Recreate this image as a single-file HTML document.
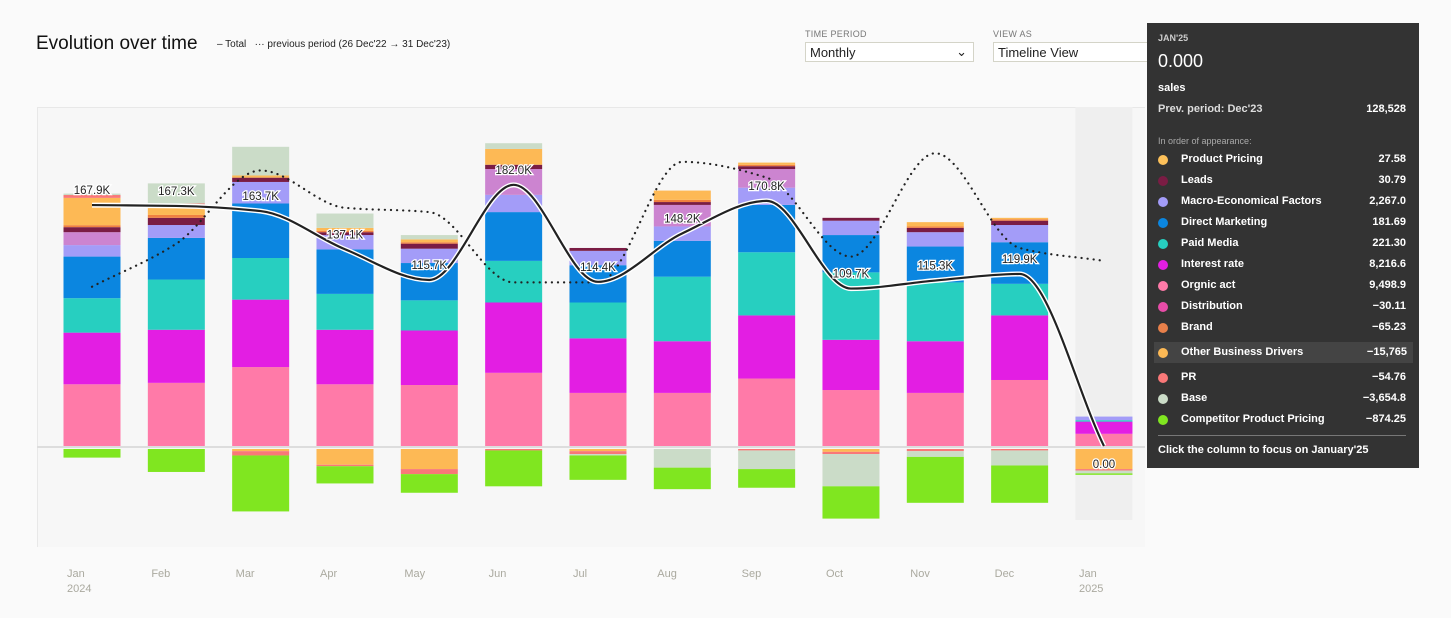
<!DOCTYPE html>
<html><head><meta charset="utf-8"><style>
html,body{margin:0;padding:0;width:1451px;height:618px;background:#fafafa;overflow:hidden;font-family:"Liberation Sans",sans-serif;}
#title{position:absolute;left:36px;top:33px;font-size:19px;color:#111;}
#legend{position:absolute;left:217px;top:39px;font-size:10px;color:#222;}
.lbl{position:absolute;font-size:9px;color:#777;letter-spacing:.3px}
.sel{position:absolute;height:20px;border:1px solid #d4d4c8;background:#fff;font-size:13px;color:#222;line-height:20px;padding-left:4px;box-sizing:border-box}
#tip{position:absolute;left:1147px;top:23px;width:272px;height:445px;background:#333;color:#fff;font-size:11px;font-weight:bold}
#tip .row{position:absolute;left:0;width:272px;height:21px;line-height:21px}
#tip .dot{position:absolute;left:11px;top:6px;width:10px;height:10px;border-radius:50%}
#tip .nm{position:absolute;left:34px}
#tip .vl{position:absolute;right:13px}
</style></head><body>
<div id="title">Evolution over time</div>
<div id="legend"><span>– Total</span> &nbsp; <span>··· previous period (26 Dec'22 → 31 Dec'23)</span></div>
<div class="lbl" style="left:805px;top:29px">TIME PERIOD</div>
<div class="sel" style="left:805px;top:42px;width:169px">Monthly<span style="position:absolute;right:6px;top:-1px">⌄</span></div>
<div class="lbl" style="left:993px;top:29px">VIEW AS</div>
<div class="sel" style="left:993px;top:42px;width:160px">Timeline View</div>
<svg id="chart" width="1451" height="618" style="position:absolute;left:0;top:0"></svg>
<div id="tip">
<div style="position:absolute;left:11px;top:10px;font-size:9px;color:#ccc">JAN'25</div>
<div style="position:absolute;left:11px;top:28px;font-size:18px;font-weight:normal">0.000</div>
<div style="position:absolute;left:11px;top:59px">sales</div>
<div style="position:absolute;left:11px;top:80px;color:#ddd">Prev. period: Dec'23</div>
<div style="position:absolute;right:13px;top:80px">128,528</div>
<div style="position:absolute;left:11px;top:113px;font-size:9px;color:#aaa;font-weight:normal">In order of appearance:</div>
<div id="tiprows"></div>
<div style="position:absolute;left:11px;right:13px;top:412px;border-top:1px solid #777"></div>
<div style="position:absolute;left:11px;top:421px">Click the column to focus on January'25</div>
</div>
<script>
const NS='http://www.w3.org/2000/svg';
const months=['Jan','Feb','Mar','Apr','May','Jun','Jul','Aug','Sep','Oct','Nov','Dec','Jan'];
const years=['2024','','','','','','','','','','','','2025'];
const organic=[43,44,55,43,42.5,51,37,37,47,39,37,46,8.5];
const interest=[36,37,47,38,38,49,38,36,44,35,36,45,8.5];
const paid=[24,35,29,25,21,29,25,45,44,47,41,22,1];
const direct=[29,29,38,31,26,34,26,25,33,26,25,29,0];
const macro=[8,9,15,10,10,12,10,10,12,10,10,12,2.5];
const distribution=[9,0,0,0,0,18,0,15,13,0,0,0,0];
const leads=[3.5,5,3,2,3.5,3,2,2,2,2,3,3,0];
const brand=[1.4,2,0,1,1,0,0,1.5,1,0,1,1,0];
const pricing=[19,7,1.5,2,2,11,0,6.5,1.5,0,3,1,0];
const prPos=[2,1,0,0,0,0,0,0,0,0,0,0,0];
const basePos=[1,14,20,10,3,4,0,0,0,0,0,0,0];
const otherNeg=[0,0,1.5,11,14,0,1.5,0,0,2,0,0,14];
const prNeg=[0,0,3,1,3.5,1,2,0,1,1.5,1.5,1,1];
const baseNeg=[0,0,0,0,0,0,1,13,13,22.5,4,10.5,2];
const competitor=[6,16,39,12,13,25,17,15,13,22.5,32,26,1];
const totals=[167.9,167.3,163.7,137.1,115.7,182.0,114.4,148.2,170.8,109.7,115.3,119.9,0];
const totalLabels=['167.9K','167.3K','163.7K','137.1K','115.7K','182.0K','114.4K','148.2K','170.8K','109.7K','115.3K','119.9K','0.00'];
const previous=[111,141,192,166,163,114,114,198,187,132,204,138,129];

const svg=document.getElementById('chart');
const X0=92,DX=84.33,BW=57,Y0=446,K=1.435;
const xc=i=>X0+i*DX;
const yv=v=>Y0-v*K;
function el(t,a,p){const e=document.createElementNS(NS,t);for(const k in a)e.setAttribute(k,a[k]);(p||svg).appendChild(e);return e;}
let bg=el('rect',{x:37,y:107,width:1108,height:440,fill:'#f7f7f7'});


el('path',{d:'M37.5,547 V107.5 H1145',fill:'none',stroke:'#e8e8e8'});
let hl=el('rect',{x:xc(12)-28.5,y:107,width:BW,height:413,fill:'#efefef'});


const pos=[['organic',organic,'#ff7aa8'],['interest',interest,'#e31ee3'],['paid-media',paid,'#27cfc0'],['direct-marketing',direct,'#0b86e0'],['macro',macro,'#a39cf8'],['distribution',distribution,'#cc84d0'],['leads',leads,'#7a1c44'],['brand',brand,'#f08040'],['product-pricing',pricing,'#fdb955'],['pr',prPos,'#f97878'],['base',basePos,'#cbdcc8']];
const neg=[['other-business-drivers',otherNeg,'#fdb955'],['pr',prNeg,'#f97878'],['base',baseNeg,'#cbdcc8'],['competitor-pricing',competitor,'#80e620']];
for(let i=0;i<months.length;i++){
  let acc=0;
  for(const [n,arr,c] of pos){const v=arr[i];if(!v)continue;
    const r=el('rect',{x:xc(i)-BW/2,y:yv(acc+v),width:BW,height:v*K,fill:c});
    
    
    acc+=v;}
  let nacc=0;
  for(const [n,arr,c] of neg){const v=arr[i];if(!v)continue;
    const r=el('rect',{x:xc(i)-BW/2,y:yv(-nacc)+3,width:BW,height:v*K,fill:c});
    
    
    nacc+=v;}
  const t=el('text',{x:xc(i)-25,y:577,'font-size':11,fill:'#aaa99f'});t.textContent=months[i];
  
  
  if(years[i]){const y=el('text',{x:xc(i)-25,y:592,'font-size':11,fill:'#aaa99f'});y.textContent=years[i];
  
  }
}
let zl=el('line',{x1:37,x2:1145,y1:Y0+1,y2:Y0+1,stroke:'#ddd','stroke-width':2});


function smooth(pts){
  const n=pts.length,d=[],m=[];
  for(let i=0;i<n-1;i++)d.push((pts[i+1][1]-pts[i][1])/(pts[i+1][0]-pts[i][0]));
  for(let i=0;i<n;i++){
    if(i==0)m.push(d[0]);else if(i==n-1)m.push(d[n-2]);
    else m.push(d[i-1]*d[i]<=0?0:(2*d[i-1]*d[i])/(d[i-1]+d[i]));
  }
  let s='M'+pts[0][0]+','+pts[0][1];
  for(let i=0;i<n-1;i++){const h=(pts[i+1][0]-pts[i][0])/3;
    s+=' C'+(pts[i][0]+h)+','+(pts[i][1]+m[i]*h)+' '+(pts[i+1][0]-h)+','+(pts[i+1][1]-m[i+1]*h)+' '+pts[i+1][0]+','+pts[i+1][1];}
  return s;}
const pp=previous.map((v,i)=>[xc(i),yv(v)]);
let pl=el('path',{d:smooth(pp),fill:'none',stroke:'#222','stroke-width':2.2,'stroke-dasharray':'0.1 6','stroke-linecap':'round'});


const tp=totals.map((v,i)=>[xc(i),yv(v)]);
el('path',{d:smooth(tp),fill:'none',stroke:'#fff','stroke-width':5});
let tl=el('path',{d:smooth(tp),fill:'none',stroke:'#222','stroke-width':2.2});


for(let i=0;i<totals.length;i++){
  const y=i==12?468:yv(totals[i])-11;
  const t=el('text',{x:xc(i),y:y,'font-size':11.5,'text-anchor':'middle',fill:'#222',stroke:'#fff','stroke-width':2.5,'paint-order':'stroke'});
  t.textContent=totalLabels[i];
  
  
}
const rows=[['Product Pricing','27.58','#fdc15a'],['Leads','30.79','#7a1c44'],['Macro-Economical Factors','2,267.0','#a39cf8'],['Direct Marketing','181.69','#0b86e0'],['Paid Media','221.30','#27cfc0'],['Interest rate','8,216.6','#e31ee3'],['Orgnic act','9,498.9','#ff7aa8'],['Distribution','−30.11','#e84ca8'],['Brand','−65.23','#e8804a'],['Other Business Drivers','−15,765','#fdb955'],['PR','−54.76','#f97878'],['Base','−3,654.8','#cbdcc8'],['Competitor Product Pricing','−874.25','#80e620']];
const tr=document.getElementById('tiprows');
rows.forEach((r,i)=>{const d=document.createElement('div');d.className='row';
  d.style.top=(126+i*21+(i>=9?4:0)+(i>=10?4:0))+'px';
  if(i==9){d.style.background='#444';d.style.left='7px';d.style.width='259px';}
  d.innerHTML='<span class="dot" style="background:'+r[2]+';'+(i==9?'left:4px':'')+'"></span><span class="nm" style="'+(i==9?'left:27px':'')+'">'+r[0]+'</span><span class="vl" style="'+(i==9?'right:6px':'')+'">'+r[1]+'</span>';
  
  
  tr.appendChild(d);});
</script>
</body></html>
